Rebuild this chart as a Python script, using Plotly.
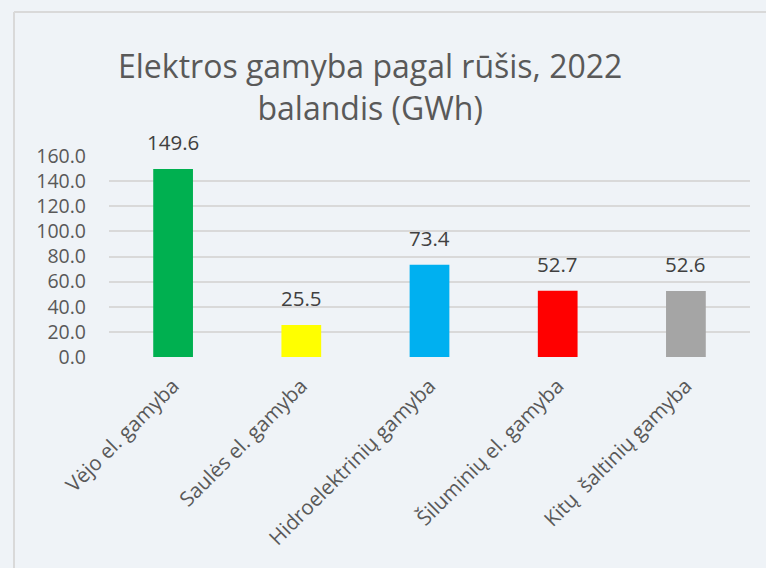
import plotly.graph_objects as go

categories = ["Vėjo el. gamyba", "Saulės el. gamyba", "Hidroelektrinių gamyba",
              "Šiluminių el. gamyba", "Kitų  šaltinių gamyba"]
values = [149.6, 25.5, 73.4, 52.7, 52.6]
colors = ["#00b050", "#ffff00", "#00b0f0", "#ff0000", "#a5a5a5"]
tick_vals = [0, 20, 40, 60, 80, 100, 120, 140, 160]
tick_text = ["0.0", "20.0", "40.0", "60.0", "80.0", "100.0", "120.0", "140.0", "160.0"]
title_text = "Elektros gamyba pagal rūšis, 2022<br>balandis (GWh)"

W, H = 766, 568
L, R, T, B = 109, 16, 156, 211
pw, ph = W - L - R, H - T - B

def px(x):
    return (x - L) / pw

def py(y):
    return (H - B - y) / ph

bg = "#eff3f7"
fontfam = "Open Sans"

fig = go.Figure(go.Bar(x=categories, y=values, marker=dict(color=colors, line=dict(width=0)),
                       hoverinfo="x+y"))

annotations = []
for c, v in zip(categories, values):
    annotations.append(dict(x=c, y=v, xref="x", yref="y", text=f"{v:.1f}", showarrow=False,
                            yanchor="bottom", yshift=11,
                            font=dict(family=fontfam, size=20.5, color="#404040")))
annotations.append(dict(x=px(370), y=py(87), xref="paper", yref="paper", text=title_text,
                        showarrow=False, xanchor="center", yanchor="middle",
                        font=dict(family=fontfam, size=32, color="#595959")))

shapes = [
    dict(type="line", xref="paper", yref="paper", x0=px(14), x1=px(770), y0=py(12), y1=py(12),
         line=dict(color="#d9d9d9", width=2)),
    dict(type="line", xref="paper", yref="paper", x0=px(14), x1=px(14), y0=py(12), y1=py(580),
         line=dict(color="#d9d9d9", width=2)),
]

fig.update_layout(
    width=W, height=H,
    margin=dict(l=L, r=R, t=T, b=B),
    paper_bgcolor=bg, plot_bgcolor=bg,
    bargap=0.69,
    showlegend=False,
    annotations=annotations,
    shapes=shapes,
    font=dict(family=fontfam, color="#595959"),
)
fig.update_xaxes(tickangle=-45, tickfont=dict(size=20.5, color="#595959"), showgrid=False,
                 showline=False, ticks="", zeroline=False, ticklabelstandoff=12)
fig.update_yaxes(range=[0, 160], tickvals=tick_vals, ticktext=tick_text,
                 tickfont=dict(size=19.5, color="#595959"), showgrid=True, gridcolor="#d9d9d9",
                 gridwidth=1.5, zeroline=False, showline=False, ticks="",
                 ticklabelstandoff=22)

fig.write_html("out.html", config={"displayModeBar": False})
with open("out.html", encoding="utf-8") as f:
    html = f.read()
html = html.replace("<body>", '<body style="margin:0;background:%s">' % bg, 1)
with open("out.html", "w", encoding="utf-8") as f:
    f.write(html)
